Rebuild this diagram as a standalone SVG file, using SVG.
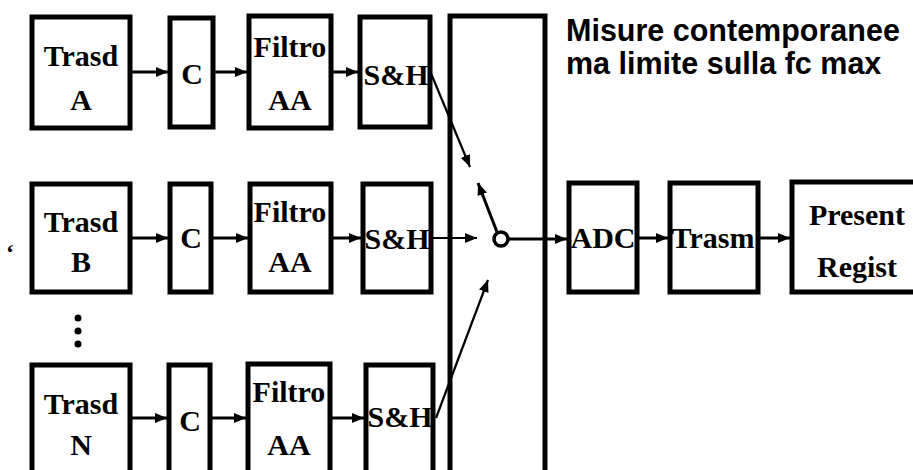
<svg xmlns="http://www.w3.org/2000/svg" width="913" height="470" viewBox="0 0 913 470">
<style>
.box{fill:#fff;stroke:#000;stroke-width:5}
.lbl{font-family:"Liberation Serif","Times New Roman",serif;font-weight:bold;font-size:30px;fill:#000;text-anchor:middle}
.title{font-family:"Liberation Sans",Arial,sans-serif;font-weight:bold;font-size:30.5px;fill:#000}
.conn{stroke:#000;stroke-width:3;fill:none}
.thin{stroke:#000;stroke-width:2.2;fill:none}
</style>
<defs>
<marker id="ah" markerUnits="userSpaceOnUse" markerWidth="12" markerHeight="10" viewBox="0 0 12 10" refX="12" refY="5" orient="auto">
<path d="M0,0 L12,5 L0,10 Z" fill="#000"/>
</marker>
</defs>
<rect width="913" height="470" fill="#fff"/>

<g id="title">
<text class="title" x="566" y="41">Misure contemporanee</text>
<text class="title" x="566" y="74">ma limite sulla fc max</text>
</g>
<g id="mark"><text x="6" y="260" style="font-family:'Liberation Serif',serif;font-weight:bold;font-size:24px">‘</text></g>

<g id="mux"><rect class="box" x="450" y="16" width="95" height="470"/></g>

<g id="trasdA"><rect class="box" x="32" y="17" width="98" height="111"/><text class="lbl" x="81" y="66">Trasd</text><text class="lbl" x="81" y="110">A</text></g>
<g id="cA"><rect class="box" x="170" y="18" width="43" height="109"/><text class="lbl" x="192" y="84">C</text></g>
<g id="filtroA"><rect class="box" x="249" y="16" width="82" height="112"/><text class="lbl" x="290" y="57">Filtro</text><text class="lbl" x="290" y="110">AA</text></g>
<g id="shA"><rect class="box" x="360" y="17" width="70" height="110"/><text class="lbl" x="396" y="85">S&amp;H</text></g>

<g id="trasdB"><rect class="box" x="32" y="184" width="98" height="108"/><text class="lbl" x="81" y="232">Trasd</text><text class="lbl" x="81" y="272">B</text></g>
<g id="cB"><rect class="box" x="170" y="184" width="41" height="108"/><text class="lbl" x="191" y="248">C</text></g>
<g id="filtroB"><rect class="box" x="250" y="184" width="81" height="108"/><text class="lbl" x="290" y="222">Filtro</text><text class="lbl" x="290" y="272">AA</text></g>
<g id="shB"><rect class="box" x="363" y="184" width="68" height="108"/><text class="lbl" x="397" y="249">S&amp;H</text></g>

<g id="dots"><circle cx="78" cy="318" r="3.5"/><circle cx="78" cy="331" r="3.5"/><circle cx="78" cy="344" r="3.5"/></g>

<g id="trasdN"><rect class="box" x="32" y="365" width="98" height="120"/><text class="lbl" x="81" y="414">Trasd</text><text class="lbl" x="81" y="455">N</text></g>
<g id="cN"><rect class="box" x="169" y="365" width="41" height="120"/><text class="lbl" x="190" y="431">C</text></g>
<g id="filtroN"><rect class="box" x="248" y="364" width="82" height="120"/><text class="lbl" x="289" y="402">Filtro</text><text class="lbl" x="289" y="455">AA</text></g>
<g id="shN"><rect class="box" x="366" y="365" width="67" height="120"/><text class="lbl" x="400" y="427">S&amp;H</text></g>

<g id="adc"><rect class="box" x="569" y="183" width="68" height="109"/><text class="lbl" x="603" y="248">ADC</text></g>
<g id="trasm"><rect class="box" x="670" y="183" width="88" height="109"/><text class="lbl" x="713" y="248">Trasm</text></g>
<g id="present"><rect class="box" x="792" y="182" width="130" height="110"/><text class="lbl" x="857" y="225">Present</text><text class="lbl" x="857" y="277">Regist</text></g>

<g id="switch"><circle cx="501" cy="239" r="7" fill="#fff" stroke="#000" stroke-width="3.5"/></g>

<g id="connectors">
<line class="conn" x1="132" y1="72" x2="168" y2="72" marker-end="url(#ah)"/>
<line class="conn" x1="215" y1="72" x2="247" y2="72" marker-end="url(#ah)"/>
<line class="conn" x1="333" y1="72" x2="358" y2="72" marker-end="url(#ah)"/>
<line class="conn" x1="132" y1="238" x2="168" y2="238" marker-end="url(#ah)"/>
<line class="conn" x1="213" y1="238" x2="248" y2="238" marker-end="url(#ah)"/>
<line class="conn" x1="333" y1="238" x2="361" y2="238" marker-end="url(#ah)"/>
<line class="conn" x1="132" y1="418" x2="167" y2="418" marker-end="url(#ah)"/>
<line class="conn" x1="212" y1="418" x2="246" y2="418" marker-end="url(#ah)"/>
<line class="conn" x1="332" y1="418" x2="364" y2="418" marker-end="url(#ah)"/>
<line class="thin" x1="430" y1="71" x2="470" y2="167" marker-end="url(#ah)"/>
<line class="thin" x1="433" y1="238" x2="477" y2="238" marker-end="url(#ah)"/>
<line class="thin" x1="436" y1="418" x2="488" y2="280" marker-end="url(#ah)"/>
<line class="conn" x1="497" y1="232" x2="478" y2="183" marker-end="url(#ah)"/>
<line class="conn" x1="508.5" y1="239" x2="567" y2="239" marker-end="url(#ah)"/>
<line class="conn" x1="639" y1="238" x2="668" y2="238" marker-end="url(#ah)"/>
<line class="conn" x1="760" y1="238" x2="790" y2="238" marker-end="url(#ah)"/>
</g>
</svg>
